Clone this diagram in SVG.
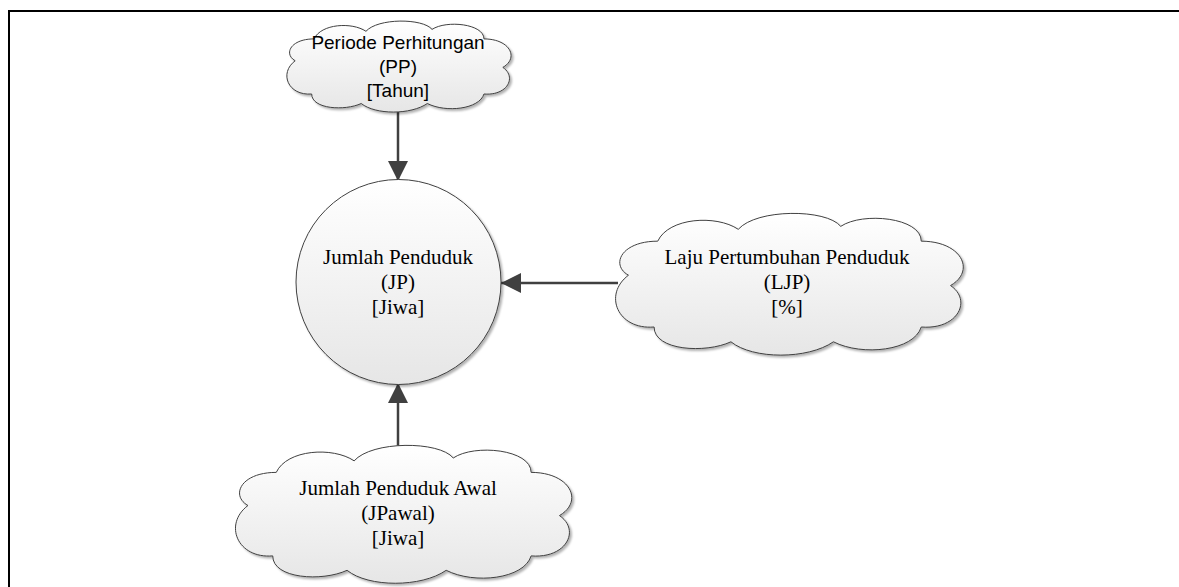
<svg xmlns="http://www.w3.org/2000/svg" xmlns:xlink="http://www.w3.org/1999/xlink" width="1179" height="587" viewBox="0 0 1179 587">
  <style>
    .shape { fill: url(#fillGrad); stroke: #404040; stroke-width: 1; filter: url(#shadow); }
    .cloud { vector-effect: non-scaling-stroke; }
    .serif { font-family: "Liberation Serif", "Times New Roman", serif; font-size: 21px; fill: #000; text-anchor: middle; }
    .sans { font-family: "Liberation Sans", Arial, sans-serif; font-size: 19px; fill: #000; text-anchor: middle; }
    .conn { stroke: #404040; stroke-width: 2.5; fill: none; marker-end: url(#arrow); }
    .frame { stroke: #000; stroke-width: 2; fill: none; }
  </style>
  <defs>
    <linearGradient id="fillGrad" x1="0" y1="0" x2="0" y2="1">
      <stop offset="0" stop-color="#ffffff"/>
      <stop offset="1" stop-color="#e6e6e6"/>
    </linearGradient>
    <filter id="shadow" x="-10%" y="-10%" width="125%" height="130%">
      <feDropShadow dx="2" dy="2" stdDeviation="1.2" flood-color="#000" flood-opacity="0.3"/>
    </filter>
    <marker id="arrow" markerUnits="userSpaceOnUse" markerWidth="20" markerHeight="20" viewBox="0 0 18 18" refX="18" refY="9" orient="auto">
      <path d="M0,0 L18,9 L0,18 Z" fill="#404040"/>
    </marker>
    <path id="cloudPath" d="M12,45 C2,38 8,22 28,22 C34,6 60,4 72,14 C82,0 120,0 128,12 C140,2 172,6 172,22 C194,22 202,42 188,52 C200,62 192,82 172,80 C168,96 140,100 124,90 C110,102 80,102 68,90 C54,98 26,96 26,80 C6,82 -2,58 12,45 Z"/>
  </defs>

  <g id="frame">
    <line class="frame" x1="8" y1="11" x2="1179" y2="11"/>
    <line class="frame" x1="9" y1="10" x2="9" y2="587"/>
  </g>

  <g id="connectors">
    <line class="conn" x1="398" y1="110" x2="398" y2="181"/>
    <line class="conn" x1="618" y1="283" x2="501" y2="283"/>
    <line class="conn" x1="398" y1="448" x2="398" y2="383"/>
  </g>

  <g id="node-PP">
    <g class="shape">
      <path class="cloud" d="M12,45 C2,38 8,22 28,22 C34,6 60,4 72,14 C82,0 120,0 128,12 C140,2 172,6 172,22 C194,22 202,42 188,52 C200,62 192,82 172,80 C168,96 140,100 124,90 C110,102 80,102 68,90 C54,98 26,96 26,80 C6,82 -2,58 12,45 Z" transform="translate(281,18) scale(1.18,0.95)"/>
    </g>
    <text class="sans" x="398" y="49">Periode Perhitungan</text>
    <text class="sans" x="398" y="73">(PP)</text>
    <text class="sans" x="398" y="97">[Tahun]</text>
  </g>

  <g id="node-JP">
    <circle class="shape" cx="398.5" cy="282" r="102.5"/>
    <text class="serif" x="398" y="264">Jumlah Penduduk</text>
    <text class="serif" x="398" y="289">(JP)</text>
    <text class="serif" x="398" y="314">[Jiwa]</text>
  </g>

  <g id="node-LJP">
    <g class="shape">
      <path class="cloud" d="M12,45 C2,38 8,22 28,22 C34,6 60,4 72,14 C82,0 120,0 128,12 C140,2 172,6 172,22 C194,22 202,42 188,52 C200,62 192,82 172,80 C168,96 140,100 124,90 C110,102 80,102 68,90 C54,98 26,96 26,80 C6,82 -2,58 12,45 Z" transform="translate(606.5,208.6) scale(1.83,1.48)"/>
    </g>
    <text class="serif" x="787" y="264">Laju Pertumbuhan Penduduk</text>
    <text class="serif" x="787" y="289">(LJP)</text>
    <text class="serif" x="787" y="314">[%]</text>
  </g>

  <g id="node-JPawal">
    <g class="shape">
      <path class="cloud" d="M12,45 C2,38 8,22 28,22 C34,6 60,4 72,14 C82,0 120,0 128,12 C140,2 172,6 172,22 C194,22 202,42 188,52 C200,62 192,82 172,80 C168,96 140,100 124,90 C110,102 80,102 68,90 C54,98 26,96 26,80 C6,82 -2,58 12,45 Z" transform="translate(226.7,440.7) scale(1.77,1.44)"/>
    </g>
    <text class="serif" x="398" y="495">Jumlah Penduduk Awal</text>
    <text class="serif" x="398" y="520">(JPawal)</text>
    <text class="serif" x="398" y="545">[Jiwa]</text>
  </g>
</svg>
